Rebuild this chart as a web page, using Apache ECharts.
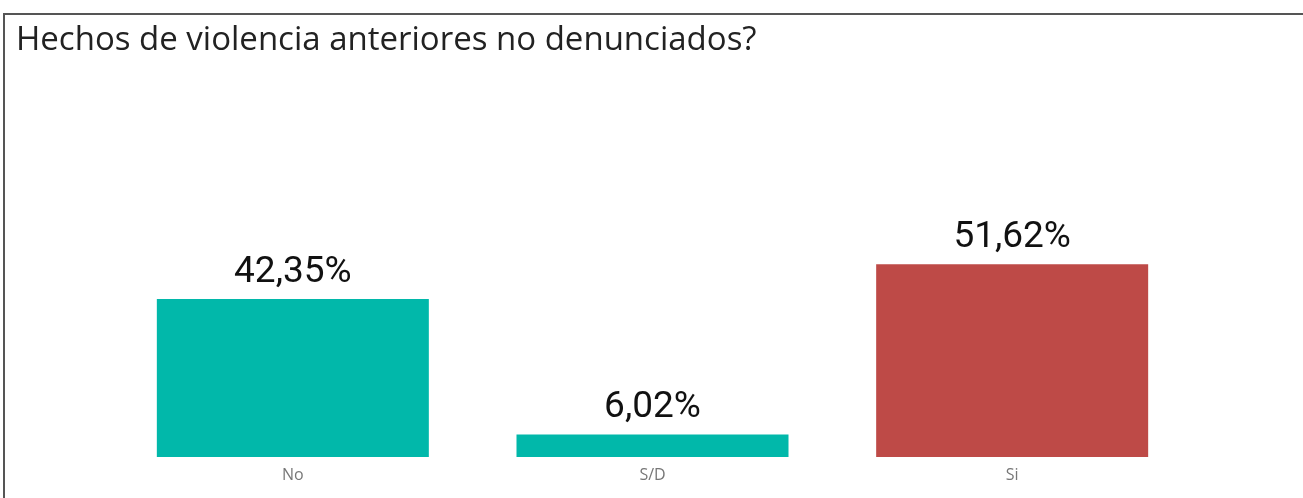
<!DOCTYPE html>
<html>
<head>
<meta charset="utf-8">
<script src="https://cdn.jsdelivr.net/npm/echarts@6/dist/echarts.min.js"></script>
<style>
  html, body { margin: 0; padding: 0; background: #fff; }
  #chart { width: 1303px; height: 498px; }
</style>
</head>
<body>
<div id="chart"></div>
<script>
const titulo     = 'Hechos de violencia anteriores no denunciados?'
const categorias = ['No', 'S/D', 'Si']
const valores    = [42.35, 6.02, 51.62]
const colores    = ['#01B8AA', '#01B8AA', '#BE4A47']

const chart = echarts.init(document.getElementById('chart'))

chart.setOption({
  animation: false,
  title: {
    text: titulo,
    left: 11,
    top : 19,
    textStyle: {
      fontFamily: 'Open Sans',
      fontSize  : 33,
      fontWeight: 'normal',
      color     : '#222'
    }
  },
  graphic: [{
    type : 'rect',
    shape: { x: 4, y: 14, width: 1320, height: 520 },
    style: { fill: 'none', stroke: '#555', lineWidth: 2 },
    silent: true
  }],
  grid: {
    top   : 233,
    bottom: 41,
    left  : 113,
    right : 111
  },
  xAxis: {
    type: 'category',
    data: categorias,
    axisLine : { show: false },
    axisTick : { show: false },
    axisLabel: {
      color     : '#777',
      fontFamily: 'Open Sans',
      fontSize  : 16,
      margin    : 10
    }
  },
  yAxis: {
    type: 'value',
    min : 0,
    max : 60,
    show: false
  },
  series: [{
    type    : 'bar',
    barWidth: 272,
    data    : valores.map((v, i) => ({ value: v, itemStyle: { color: colores[i] } })),
    label: {
      show      : true,
      position  : 'top',
      distance  : 8,
      fontFamily: 'Roboto',
      fontSize  : 37,
      color     : '#111',
      formatter : p => p.value.toFixed(2).replace('.', ',') + '%'
    }
  }]
})
</script>
</body>
</html>
